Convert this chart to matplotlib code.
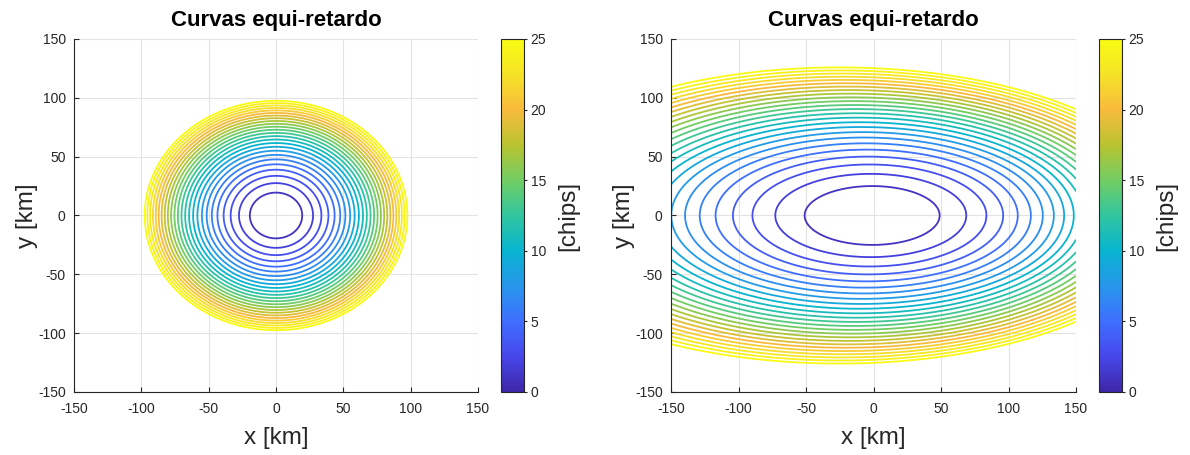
import numpy as np
import matplotlib
matplotlib.use("Agg")
import matplotlib.pyplot as plt
from matplotlib.colors import LinearSegmentedColormap, Normalize
from matplotlib.cm import ScalarMappable

plt.rcParams['font.family'] = ['Liberation Sans', 'DejaVu Sans']
plt.rcParams['axes.unicode_minus'] = False

# Dados
niveis = [1, 2, 3, 4, 5, 6, 7, 8, 9, 10, 11, 12, 13, 14, 15, 16, 17, 18, 19,
          20, 21, 22, 23, 24, 25]          # retardo [chips]
chip_km = 0.29305                          # 1 chip C/A em km
altura_km = [645.0, 533.0]                 # altura do receptor (esq., dir.)
elevacao_deg = [90.0, 30.0]                # elevacao do transmissor
ticks_xy = [-150, -100, -50, 0, 50, 100, 150]
ticks_cb = [0, 5, 10, 15, 20, 25]
titulo = 'Curvas equi-retardo'

# mapa de cores tipo "parula"
parula = LinearSegmentedColormap.from_list('parula', [
    (0.2422, 0.1504, 0.6603), (0.2803, 0.2782, 0.9221),
    (0.2440, 0.4358, 0.9988), (0.1540, 0.5902, 0.9218),
    (0.0297, 0.7082, 0.8163), (0.1938, 0.7758, 0.6251),
    (0.4456, 0.8024, 0.3909), (0.7242, 0.7698, 0.1910),
    (0.9728, 0.7298, 0.2394), (0.9610, 0.8890, 0.1537),
    (0.9769, 0.9839, 0.0805)], N=256)
norm = Normalize(vmin=0, vmax=25)

x = np.linspace(-150, 150, 801)
X, Y = np.meshgrid(x, x)


def retardo(h, elev):
    """Retardo (chips) relativo ao ponto especular, terra plana."""
    e = np.radians(elev)
    rho = h / np.sin(e)
    d = np.sqrt(rho**2 + X**2 + Y**2 - 2 * rho * X * np.cos(e)) + X * np.cos(e) - rho
    return d / chip_km


fig = plt.figure(figsize=(11.9, 4.55), dpi=100)
pos_ax = [[0.0622, 0.1385, 0.3395, 0.7758], [0.5639, 0.1385, 0.3403, 0.7758]]
pos_cb = [[0.4214, 0.1385, 0.0193, 0.7758], [0.9238, 0.1385, 0.0193, 0.7758]]
cor_txt = '#262626'

for i in range(2):
    ax = fig.add_axes(pos_ax[i])
    Z = retardo(altura_km[i], elevacao_deg[i])
    ax.contour(X, Y, Z, levels=niveis, cmap=parula, norm=norm, linewidths=1.3)
    ax.set_xlim(-150, 150)
    ax.set_ylim(-150, 150)
    ax.set_xticks(ticks_xy)
    ax.set_yticks(ticks_xy)
    ax.grid(True, color='#e3e3e3', linewidth=0.8)
    ax.set_axisbelow(True)
    for s in ['top', 'right']:
        ax.spines[s].set_visible(False)
    for s in ['left', 'bottom']:
        ax.spines[s].set_color(cor_txt)
        ax.spines[s].set_linewidth(0.8)
    ax.tick_params(direction='in', length=3.5, width=0.8, labelsize=10,
                   colors=cor_txt)
    ax.tick_params(axis='x', pad=7)
    ax.tick_params(axis='y', pad=6)
    ax.set_xlabel('x [km]', fontsize=17.5, color=cor_txt, labelpad=8)
    ax.set_ylabel('y [km]', fontsize=17.5, color=cor_txt, labelpad=0)
    ax.set_title(titulo, fontsize=16, fontweight='bold', pad=9)

    cax = fig.add_axes(pos_cb[i])
    cb = fig.colorbar(ScalarMappable(norm=norm, cmap=parula), cax=cax)
    cb.set_ticks(ticks_cb)
    cb.outline.set_edgecolor(cor_txt)
    cb.outline.set_linewidth(0.8)
    cax.tick_params(direction='out', length=2.5, width=0.8, labelsize=10,
                    colors=cor_txt, pad=2)
    cb.set_label('[chips]', fontsize=17.5, color=cor_txt, labelpad=8)

fig.savefig('out.png', dpi=100)
